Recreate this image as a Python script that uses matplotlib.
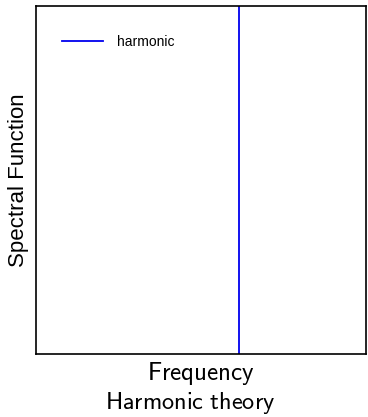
import matplotlib
matplotlib.use("Agg")
import matplotlib.pyplot as plt

plt.rcParams['mathtext.fontset'] = 'cm'

# data
series_label = "harmonic"
frequency = [0.615]  # position of harmonic peak on normalized frequency axis
x_range = [0.0, 1.0]

fig = plt.figure(figsize=(3.68, 4.17), dpi=100)
ax = fig.add_axes([0.098, 0.151, 0.897, 0.835])
for f in frequency:
    ax.axvline(f, color='#0000ee', lw=1.3, label=series_label)
ax.set_xlim(*x_range)
ax.set_ylim(0, 1)
ax.set_xticks([])
ax.set_yticks([])
for s in ax.spines.values():
    s.set_linewidth(1.2)
ax.set_xlabel(r'$\mathsf{Frequency}$', fontsize=18, labelpad=4)
ax.set_ylabel('Spectral Function', fontsize=16, family='Liberation Sans', labelpad=5)
ax.legend(loc='upper left', frameon=False, prop={'family': 'Liberation Sans', 'size': 10},
          handlelength=2.9, handletextpad=1.0, borderaxespad=1.5,
          bbox_to_anchor=(0, 0.991))
fig.text(0.5 * (0.098 + 0.995) - 0.031, 0.002, r'$\mathsf{Harmonic\ theory}$', ha='center',
         va='bottom', fontsize=17.5)
fig.savefig('out.png', dpi=100)
